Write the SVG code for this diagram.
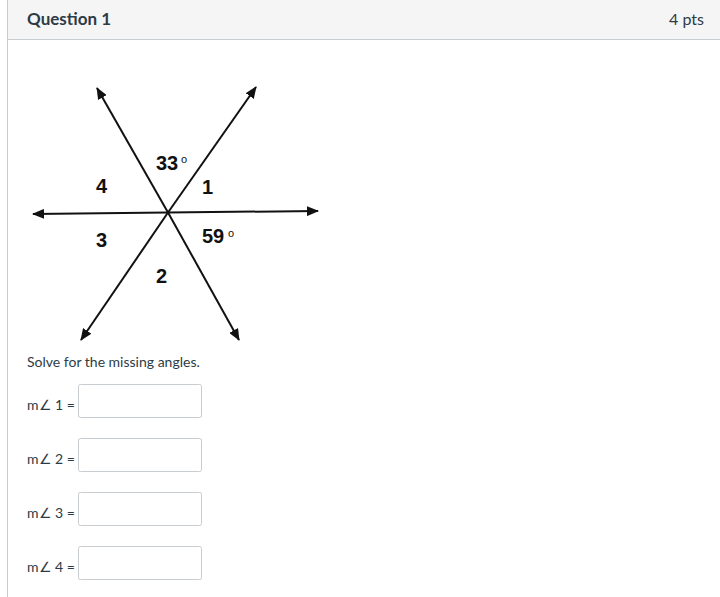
<svg xmlns="http://www.w3.org/2000/svg" width="720" height="597" viewBox="0 0 720 597">
<defs>
<style>
.hdr{font-family:Lato,"Liberation Sans",sans-serif;fill:#2d3b45}
.lbl{font-family:"Liberation Sans",Arial,sans-serif;font-weight:bold;font-size:20px;fill:#111}
.deg{font-family:"Liberation Sans",Arial,sans-serif;font-size:11px;fill:#111}
.txt{font-family:Lato,"Liberation Sans",sans-serif;font-size:14px;fill:#2d3b45}
.box{fill:#fff;stroke:#c7cdd1;stroke-width:1}
.ray{stroke:#111;stroke-width:2;fill:none;marker-end:url(#ah)}
</style>
<marker id="ah" viewBox="0 0 12 10" refX="11" refY="5" markerWidth="12" markerHeight="10" markerUnits="userSpaceOnUse" orient="auto">
<path d="M0,0 L12,5 L0,10 Z" fill="#111"/>
</marker>
</defs>
<rect x="0" y="0" width="720" height="597" fill="#fff"/>
<rect id="header" x="8" y="0" width="712" height="39.5" fill="#f5f5f5"/>
<line x1="8" y1="39.5" x2="720" y2="39.5" stroke="#c7cdd1" stroke-width="1"/>
<line x1="7.5" y1="0" x2="7.5" y2="597" stroke="#c7cdd1" stroke-width="1"/>
<text class="hdr" x="27" y="25" font-size="17" font-weight="bold">Question 1</text>
<text class="hdr" x="704" y="25" font-size="16" text-anchor="end" fill="#555">4 pts</text>
<g id="connectors">
<line class="ray" x1="168" y1="212.5" x2="33" y2="214"/>
<line class="ray" x1="168" y1="212.5" x2="318" y2="211"/>
<line class="ray" x1="168" y1="212.5" x2="97" y2="88"/>
<line class="ray" x1="168" y1="212.5" x2="239" y2="340"/>
<line class="ray" x1="168" y1="212.5" x2="256" y2="87"/>
<line class="ray" x1="168" y1="212.5" x2="81" y2="340"/>
</g>
<g id="labels">
<text class="lbl" x="156" y="170">33</text><text class="deg" x="181" y="163">o</text>
<text class="lbl" x="96" y="193">4</text>
<text class="lbl" x="202" y="194">1</text>
<text class="lbl" x="96" y="247">3</text>
<text class="lbl" x="202" y="243">59</text><text class="deg" x="228" y="237">o</text>
<text class="lbl" x="156" y="283">2</text>
</g>
<text class="txt" x="27" y="367">Solve for the missing angles.</text>
<g id="q1"><text class="txt" x="27" y="410" font-size="13">m∠ 1 =</text><rect class="box" x="78.5" y="384.5" width="123" height="33" rx="2"/></g>
<g id="q2"><text class="txt" x="27" y="464" font-size="13">m∠ 2 =</text><rect class="box" x="78.5" y="438.5" width="123" height="33" rx="2"/></g>
<g id="q3"><text class="txt" x="27" y="518" font-size="13">m∠ 3 =</text><rect class="box" x="78.5" y="492.5" width="123" height="33" rx="2"/></g>
<g id="q4"><text class="txt" x="27" y="572" font-size="13">m∠ 4 =</text><rect class="box" x="78.5" y="546.5" width="123" height="33" rx="2"/></g>
</svg>
